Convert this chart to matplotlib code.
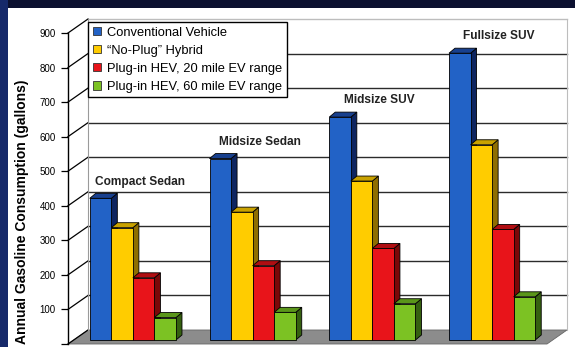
import matplotlib
matplotlib.use("Agg")
import matplotlib.pyplot as plt
from matplotlib.patches import Polygon, Rectangle, Patch

# annual gasoline use (gallons)
categories = ["Compact Sedan", "Midsize Sedan", "Midsize SUV", "Fullsize SUV"]
conventional = [410, 525, 645, 830]
no_plug = [325, 370, 460, 565]
phev20 = [180, 215, 265, 320]
phev60 = [65, 80, 105, 125]
series_names = ["Conventional Vehicle", "\u201cNo-Plug\u201d Hybrid",
                "Plug-in HEV, 20 mile EV range", "Plug-in HEV, 60 mile EV range"]
yticks = list(range(0, 1000, 100))

# front, top, side shades
colors = [("#2262c6", "#18408e", "#0e2560"),
          ("#ffcc00", "#c9a200", "#8f6e00"),
          ("#e8141a", "#b00e12", "#7a0808"),
          ("#7cc223", "#5a961a", "#356010")]

W, H = 575, 347
fig = plt.figure(figsize=(W / 100, H / 100), dpi=100)
fig.patch.set_facecolor("white")
ax = fig.add_axes([68 / W, 3 / H, 479 / W, 311 / H])
ax.set_xlim(-0.5, 3.5)
ax.set_ylim(0, 900)
ax.patch.set_alpha(0)

# pixel -> data helpers (axes size is fixed)
px_x = 479 / 4
px_y = 311 / 900
def dx(p):
    return p / px_x
def dy(p):
    return p / px_y

wall_dx, wall_dy = dx(20), dy(14)

# floor
ax.add_patch(Polygon([(-0.5, 0), (3.5, 0), (3.5 + wall_dx, wall_dy), (-0.5 + wall_dx, wall_dy)],
                     closed=True, facecolor="#8c8c8c", edgecolor="#666666", lw=0.6,
                     clip_on=False, zorder=1))

# back wall gridlines and side-wall diagonals
for v in yticks[1:]:
    c = "#bdbdbd" if v == 900 else "#2b2b2b"
    ax.plot([-0.5 + wall_dx, 3.5 + wall_dx], [v + wall_dy, v + wall_dy], color=c, lw=1,
            clip_on=False, zorder=1)
for v in yticks:
    ax.plot([-0.5, -0.5 + wall_dx], [v, v + wall_dy], color="black", lw=0.9,
            clip_on=False, zorder=1)
ax.plot([-0.5 + wall_dx] * 2, [wall_dy, 900 + wall_dy], color="#9a9a9a", lw=0.8, clip_on=False, zorder=1)
ax.plot([3.5 + wall_dx] * 2, [wall_dy, 900 + wall_dy], color="#bdbdbd", lw=0.8, clip_on=False, zorder=1)

# 3-D looking bars
series = [conventional, no_plug, phev20, phev60]
w = 0.18
fx, fy = dx(5), dy(4)
bx, by = dx(6), dy(5)
z = 2
for i in range(len(categories)):
    for k, vals in enumerate(series):
        front, top, side = colors[k]
        x0 = i + (k - 1.5) * w - w / 2 + fx
        t = vals[i] + fy
        ax.add_patch(Polygon([(x0 + w, fy), (x0 + w, t), (x0 + w + bx, t + by), (x0 + w + bx, fy + by)],
                             closed=True, facecolor=side, edgecolor="black", lw=0.6, zorder=z))
        ax.add_patch(Polygon([(x0, t), (x0 + w, t), (x0 + w + bx, t + by), (x0 + bx, t + by)],
                             closed=True, facecolor=top, edgecolor="black", lw=0.6, zorder=z))
        ax.bar(x0, vals[i], width=w, bottom=fy, align="edge", color=front,
               edgecolor="black", lw=0.6, zorder=z + 0.5)
        z += 1

for i, name in enumerate(categories):
    ax.text(i + 0.1, conventional[i] + 60, name, ha="center", va="center",
            fontsize=8.6, fontweight="bold", color="#222222", family="Liberation Sans")

# axes styling
for s in ["top", "right", "bottom"]:
    ax.spines[s].set_visible(False)
ax.spines["left"].set_linewidth(1)
ax.set_xticks([])
ax.set_yticks(yticks)
ax.set_yticklabels([str(v) if v else "" for v in yticks], fontsize=7, family="Liberation Sans")
ax.tick_params(axis="y", direction="out", length=5, width=0.9, pad=4)

handles = [Patch(facecolor=c[0], edgecolor="#333333", lw=0.6) for c in colors]
leg = fig.legend(handles, series_names, loc="upper left", bbox_to_anchor=(88 / W, 1 - 22 / H),
                 bbox_transform=fig.transFigure, borderaxespad=0,
                 prop={"family": "Liberation Sans", "size": 9.3},
                 handlelength=0.65, handleheight=0.65, handletextpad=0.5,
                 labelspacing=0.47, borderpad=0.35, fancybox=False, framealpha=1)
leg.get_frame().set_edgecolor("black")
leg.get_frame().set_linewidth(1)
leg.set_zorder(20)

fig.text(22 / W, 1 - 212 / H, "Annual Gasoline Consumption (gallons)", rotation=90,
         ha="center", va="center", fontsize=10, fontweight="bold", family="Liberation Sans")

# slide frame
fig.patches.append(Rectangle((0, 1 - 8 / H), 1, 8 / H, transform=fig.transFigure,
                             facecolor="#0b1030", edgecolor="none", zorder=30))
fig.patches.append(Rectangle((0, 0), 8 / W, 1, transform=fig.transFigure,
                             facecolor="#16296a", edgecolor="none", zorder=30))

fig.savefig("out.png", dpi=100)
